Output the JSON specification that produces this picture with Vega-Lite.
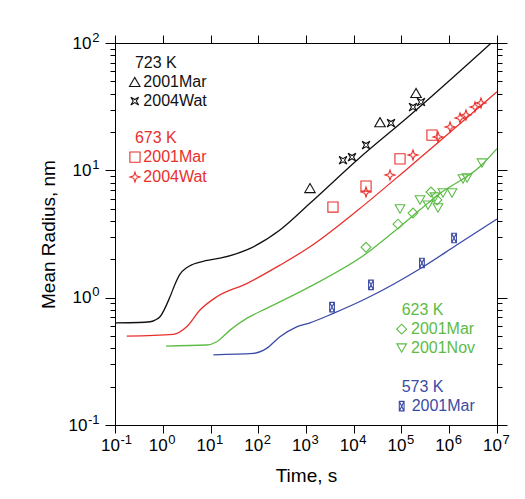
{
  "$schema": "https://vega.github.io/schema/vega-lite/v6.json",
  "width": 382,
  "height": 382,
  "autosize": {"type": "none"},
  "padding": {"left": 115, "top": 43, "right": 28, "bottom": 74},
  "background": "white",
  "config": {
    "font": "Liberation Sans",
    "view": {"stroke": null},
    "axis": {
      "grid": false, "domainColor": "#000", "tickColor": "#000", "labelColor": "#000", "titleColor": "#000",
      "labelFont": "Liberation Sans", "titleFont": "Liberation Sans", "labelFontSize": 16, "titleFontSize": 19,
      "titleFontWeight": "normal", "labelOverlap": false, "labelFlush": false, "domainWidth": 1, "tickWidth": 1
    }
  },
  "datasets": {
    "lines": [
      {"temp": "723 K", "t": 0.1, "r": 0.635}, {"temp": "723 K", "t": 0.316, "r": 0.638}, {"temp": "723 K", "t": 0.54, "r": 0.647},
      {"temp": "723 K", "t": 0.69, "r": 0.667}, {"temp": "723 K", "t": 0.875, "r": 0.708}, {"temp": "723 K", "t": 1.42, "r": 1.016},
      {"temp": "723 K", "t": 1.78, "r": 1.26}, {"temp": "723 K", "t": 2.3, "r": 1.53}, {"temp": "723 K", "t": 3.16, "r": 1.72},
      {"temp": "723 K", "t": 4.31, "r": 1.83}, {"temp": "723 K", "t": 7.94, "r": 1.95},
      {"temp": "723 K", "t": 15.8, "r": 2.04}, {"temp": "723 K", "t": 57.3, "r": 2.37}, {"temp": "723 K", "t": 285, "r": 3.4},
      {"temp": "723 K", "t": 1213, "r": 5.51}, {"temp": "723 K", "t": 13520, "r": 12.6}, {"temp": "723 K", "t": 136800, "r": 26.2},
      {"temp": "723 K", "t": 7480000, "r": 99.5},
      {"temp": "673 K", "t": 0.176, "r": 0.499}, {"temp": "673 K", "t": 1.66, "r": 0.515}, {"temp": "673 K", "t": 3.17, "r": 0.59},
      {"temp": "673 K", "t": 6.03, "r": 0.8}, {"temp": "673 K", "t": 13.5, "r": 1.016}, {"temp": "673 K", "t": 57.3, "r": 1.29},
      {"temp": "673 K", "t": 285, "r": 1.8}, {"temp": "673 K", "t": 1213, "r": 2.51}, {"temp": "673 K", "t": 12270, "r": 4.88},
      {"temp": "673 K", "t": 136800, "r": 10.4}, {"temp": "673 K", "t": 10000000, "r": 41.4},
      {"temp": "623 K", "t": 1.17, "r": 0.417}, {"temp": "623 K", "t": 8.32, "r": 0.425}, {"temp": "623 K", "t": 13.5, "r": 0.451},
      {"temp": "623 K", "t": 25.6, "r": 0.556}, {"temp": "623 K", "t": 57.3, "r": 0.687}, {"temp": "623 K", "t": 150, "r": 0.824},
      {"temp": "623 K", "t": 1213, "r": 1.22}, {"temp": "623 K", "t": 18660, "r": 2.23}, {"temp": "623 K", "t": 93100, "r": 3.61},
      {"temp": "623 K", "t": 640000, "r": 6.59}, {"temp": "623 K", "t": 4410000, "r": 10.7}, {"temp": "623 K", "t": 10000000, "r": 14.8},
      {"temp": "573 K", "t": 11.5, "r": 0.356}, {"temp": "573 K", "t": 78.7, "r": 0.365}, {"temp": "573 K", "t": 150, "r": 0.4},
      {"temp": "573 K", "t": 285, "r": 0.493}, {"temp": "573 K", "t": 638, "r": 0.59}, {"temp": "573 K", "t": 1213, "r": 0.635},
      {"temp": "573 K", "t": 3730, "r": 0.753}, {"temp": "573 K", "t": 18660, "r": 0.989}, {"temp": "573 K", "t": 286000, "r": 1.75},
      {"temp": "573 K", "t": 1430000, "r": 2.59}, {"temp": "573 K", "t": 10000000, "r": 4.15}
    ],
    "pts": [
      {"temp": "723 K", "marker": "tri", "t": 1213, "r": 7.26},
      {"temp": "723 K", "marker": "tri", "t": 35480, "r": 23.9},
      {"temp": "723 K", "marker": "tri", "t": 201400, "r": 40.5},
      {"temp": "723 K", "marker": "xstar", "t": 5960, "r": 12.0},
      {"temp": "723 K", "marker": "xstar", "t": 9180, "r": 12.7},
      {"temp": "723 K", "marker": "xstar", "t": 18070, "r": 15.8},
      {"temp": "723 K", "marker": "xstar", "t": 60300, "r": 23.5},
      {"temp": "723 K", "marker": "xstar", "t": 174000, "r": 31.4},
      {"temp": "723 K", "marker": "xstar", "t": 256000, "r": 34.4},
      {"temp": "673 K", "marker": "sq", "t": 3670, "r": 5.15},
      {"temp": "673 K", "marker": "sq", "t": 18070, "r": 7.53},
      {"temp": "673 K", "marker": "sq", "t": 93100, "r": 12.3},
      {"temp": "673 K", "marker": "sq", "t": 435000, "r": 18.9},
      {"temp": "673 K", "marker": "star", "t": 18070, "r": 6.76},
      {"temp": "673 K", "marker": "star", "t": 57400, "r": 9.18},
      {"temp": "673 K", "marker": "star", "t": 174000, "r": 13.2},
      {"temp": "673 K", "marker": "star", "t": 581000, "r": 18.3},
      {"temp": "673 K", "marker": "star", "t": 1040000, "r": 21.9},
      {"temp": "673 K", "marker": "star", "t": 1680000, "r": 25.8},
      {"temp": "673 K", "marker": "star", "t": 2240000, "r": 27.2},
      {"temp": "673 K", "marker": "star", "t": 3460000, "r": 31.4},
      {"temp": "673 K", "marker": "star", "t": 4620000, "r": 33.8},
      {"temp": "623 K", "marker": "dia", "t": 18070, "r": 2.49},
      {"temp": "623 K", "marker": "dia", "t": 84500, "r": 3.78},
      {"temp": "623 K", "marker": "dia", "t": 174000, "r": 4.62},
      {"temp": "623 K", "marker": "dia", "t": 415000, "r": 6.76},
      {"temp": "623 K", "marker": "dia", "t": 553000, "r": 5.85},
      {"temp": "623 K", "marker": "tridown", "t": 93100, "r": 4.97},
      {"temp": "623 K", "marker": "tridown", "t": 244000, "r": 5.85},
      {"temp": "623 K", "marker": "tridown", "t": 359000, "r": 5.33},
      {"temp": "623 K", "marker": "tridown", "t": 581000, "r": 5.06},
      {"temp": "623 K", "marker": "tridown", "t": 503000, "r": 6.17},
      {"temp": "623 K", "marker": "tridown", "t": 740000, "r": 6.64},
      {"temp": "623 K", "marker": "tridown", "t": 1140000, "r": 6.64},
      {"temp": "623 K", "marker": "tridown", "t": 1940000, "r": 8.55},
      {"temp": "623 K", "marker": "tridown", "t": 2360000, "r": 8.71},
      {"temp": "623 K", "marker": "tridown", "t": 4850000, "r": 11.4},
      {"temp": "573 K", "marker": "hour", "t": 3510, "r": 0.843},
      {"temp": "573 K", "marker": "hour", "t": 22950, "r": 1.26},
      {"temp": "573 K", "marker": "hour", "t": 268000, "r": 1.87},
      {"temp": "573 K", "marker": "hour", "t": 1260000, "r": 2.94},
      {"temp": "723 K", "marker": "tri", "t": 0.259, "r": 49.4},
      {"temp": "723 K", "marker": "xstar", "t": 0.259, "r": 35.0},
      {"temp": "673 K", "marker": "sq", "t": 0.262, "r": 12.7},
      {"temp": "673 K", "marker": "star", "t": 0.262, "r": 8.85},
      {"temp": "623 K", "marker": "dia", "t": 100900, "r": 0.566},
      {"temp": "623 K", "marker": "tridown", "t": 100900, "r": 0.402},
      {"temp": "573 K", "marker": "hour", "t": 100900, "r": 0.1406}
    ],
    "labels": [
      {"temp": "723 K", "label": "723 K", "t": 0.262, "r": 69.6},
      {"temp": "723 K", "label": "2001Mar", "t": 0.392, "r": 49.4},
      {"temp": "723 K", "label": "2004Wat", "t": 0.392, "r": 35.0},
      {"temp": "673 K", "label": "673 K", "t": 0.262, "r": 17.9},
      {"temp": "673 K", "label": "2001Mar", "t": 0.392, "r": 12.7},
      {"temp": "673 K", "label": "2004Wat", "t": 0.392, "r": 8.85},
      {"temp": "623 K", "label": "623 K", "t": 100900, "r": 0.8},
      {"temp": "623 K", "label": "2001Mar", "t": 158000, "r": 0.566},
      {"temp": "623 K", "label": "2001Nov", "t": 158000, "r": 0.402},
      {"temp": "573 K", "label": "573 K", "t": 100900, "r": 0.199},
      {"temp": "573 K", "label": "2001Mar", "t": 163000, "r": 0.1406}
    ]
  },
  "layer": [
    {
      "data": {"name": "lines"},
      "mark": {"type": "line", "strokeWidth": 1.3, "interpolate": "monotone"},
      "encoding": {
        "x": {"field": "t", "type": "quantitative", "scale": {"type": "log", "domain": [0.1, 10000000]},
          "axis": {"orient": "bottom", "values": [0.1, 1, 10, 100, 1000, 10000, 100000, 1000000, 10000000],
            "labels": false, "tickSize": 8, "title": "Time, s", "titleY": 50, "titleBaseline": "middle"}},
        "y": {"field": "r", "type": "quantitative", "scale": {"type": "log", "domain": [0.1, 100]},
          "axis": {"orient": "left", "values": [0.1,0.2,0.3,0.4,0.5,0.6,0.7,0.8,0.9,1,2,3,4,5,6,7,8,9,10,20,30,40,50,60,70,80,90,100],
            "labels": false,
            "tickSize": {"condition": {"test": "abs(log(datum.value)/LN10 - round(log(datum.value)/LN10)) < 0.01", "value": 10}, "value": 5},
            "title": "Mean Radius, nm", "titleX": -67, "titleBaseline": "middle"}},
        "color": {"field": "temp", "type": "nominal", "scale": {"domain": ["723 K", "673 K", "623 K", "573 K"], "range": ["#111111", "#e8302c", "#5dbb46", "#3a4ba6"]}, "legend": null}
      }
    },
    {
      "data": {"name": "pts"},
      "mark": {"type": "point", "filled": false, "strokeWidth": 1.1, "opacity": 1},
      "encoding": {
        "x": {"field": "t", "type": "quantitative", "scale": {"type": "log", "domain": [0.1, 10000000]}, "axis": null},
        "y": {"field": "r", "type": "quantitative", "scale": {"type": "log", "domain": [0.1, 100]}, "axis": null},
        "color": {"field": "temp", "type": "nominal", "scale": {"domain": ["723 K", "673 K", "623 K", "573 K"], "range": ["#111111", "#e8302c", "#5dbb46", "#3a4ba6"]}, "legend": null},
        "shape": {"field": "marker", "type": "nominal", "legend": null, "scale": {
          "domain": ["tri", "xstar", "sq", "star", "dia", "tridown", "hour"],
          "range": ["triangle-up",
            "M-0.75,-0.75L0,-0.3L0.75,-0.75L0.3,0L0.75,0.75L0,0.3L-0.75,0.75L-0.3,0Z",
            "square",
            "M0,-1L0.25,-0.25L1,0L0.25,0.25L0,1L-0.25,0.25L-1,0L-0.25,-0.25Z",
            "diamond",
            "triangle-down",
            "M-0.5,-1H0.5V1H-0.5Z M-0.5,-1L0,0L0.5,-1 M-0.5,1L0,0L0.5,1"]}},
        "size": {"field": "marker", "type": "ordinal", "legend": null, "scale": {
          "domain": ["tri", "xstar", "sq", "star", "dia", "tridown", "hour"],
          "range": [110, 90, 120, 110, 180, 110, 85]}}
      }
    },
    {
      "data": {"name": "labels"},
      "mark": {"type": "text", "align": "left", "baseline": "middle", "fontSize": 16, "font": "Liberation Sans"},
      "encoding": {
        "x": {"field": "t", "type": "quantitative", "scale": {"type": "log", "domain": [0.1, 10000000]}, "axis": null},
        "y": {"field": "r", "type": "quantitative", "scale": {"type": "log", "domain": [0.1, 100]}, "axis": null},
        "text": {"field": "label"},
        "color": {"field": "temp", "type": "nominal", "scale": {"domain": ["723 K", "673 K", "623 K", "573 K"], "range": ["#111111", "#e8302c", "#5dbb46", "#3a4ba6"]}, "legend": null}
      }
    },
    {
      "data": {"name": "lines"},
      "mark": {"type": "line", "opacity": 0},
      "encoding": {
        "x": {"field": "t", "type": "quantitative", "scale": {"type": "log", "domain": [0.1, 10000000]},
          "axis": {"orient": "top", "values": [0.1, 1, 10, 100, 1000, 10000, 100000, 1000000, 10000000], "labels": false, "tickSize": 8, "title": null}},
        "y": {"field": "r", "type": "quantitative", "scale": {"type": "log", "domain": [0.1, 100]},
          "axis": {"orient": "right", "values": [0.1,0.2,0.3,0.4,0.5,0.6,0.7,0.8,0.9,1,2,3,4,5,6,7,8,9,10,20,30,40,50,60,70,80,90,100],
            "labels": false, "title": null,
            "tickSize": {"condition": {"test": "abs(log(datum.value)/LN10 - round(log(datum.value)/LN10)) < 0.01", "value": 10}, "value": 5}}},
        "detail": {"field": "temp"}
      }
    },
    {
      "data": {"name": "lines"},
      "mark": {"type": "line", "opacity": 0},
      "encoding": {
        "x": {"field": "t", "type": "quantitative", "scale": {"type": "log", "domain": [0.1, 10000000]},
          "axis": {"orient": "bottom", "values": [0.1, 1, 10, 100, 1000, 10000, 100000, 1000000, 10000000],
            "labelExpr": "'10'", "ticks": false, "tickSize": 0, "domain": false, "title": null,
            "labelBaseline": "middle", "labelAlign": "center", "labelPadding": 20, "labelOffset": -5, "labelFontSize": 17}},
        "y": {"field": "r", "type": "quantitative", "scale": {"type": "log", "domain": [0.1, 100]},
          "axis": {"orient": "left", "values": [0.1, 1, 10, 100],
            "labelExpr": "'10'", "ticks": false, "tickSize": 0, "domain": false, "title": null,
            "labelBaseline": "middle", "labelAlign": "right",
            "labelPadding": {"condition": {"test": "datum.value < 0.5", "value": 28}, "value": 24}, "labelFontSize": 17}},
        "detail": {"field": "temp"}
      }
    },
    {
      "data": {"name": "lines"},
      "mark": {"type": "line", "opacity": 0},
      "encoding": {
        "x": {"field": "t", "type": "quantitative", "scale": {"type": "log", "domain": [0.1, 10000000]},
          "axis": {"orient": "bottom", "values": [0.1, 1, 10, 100, 1000, 10000, 100000, 1000000, 10000000],
            "labelExpr": "['-1','0','1','2','3','4','5','6','7'][round(log(datum.value)/LN10)+1]",
            "ticks": false, "tickSize": 0, "domain": false, "title": null,
            "labelBaseline": "middle", "labelAlign": "left", "labelPadding": 14, "labelOffset": 5, "labelFontSize": 13}},
        "y": {"field": "r", "type": "quantitative", "scale": {"type": "log", "domain": [0.1, 100]},
          "axis": {"orient": "left", "values": [0.1, 1, 10, 100],
            "labelExpr": "['-1','0','1','2'][round(log(datum.value)/LN10)+1]",
            "ticks": false, "tickSize": 0, "domain": false, "title": null,
            "labelBaseline": "middle", "labelAlign": "right", "labelPadding": 16, "labelOffset": -6, "labelFontSize": 13}},
        "detail": {"field": "temp"}
      }
    }
  ],
  "resolve": {"axis": {"x": "independent", "y": "independent"}}
}
